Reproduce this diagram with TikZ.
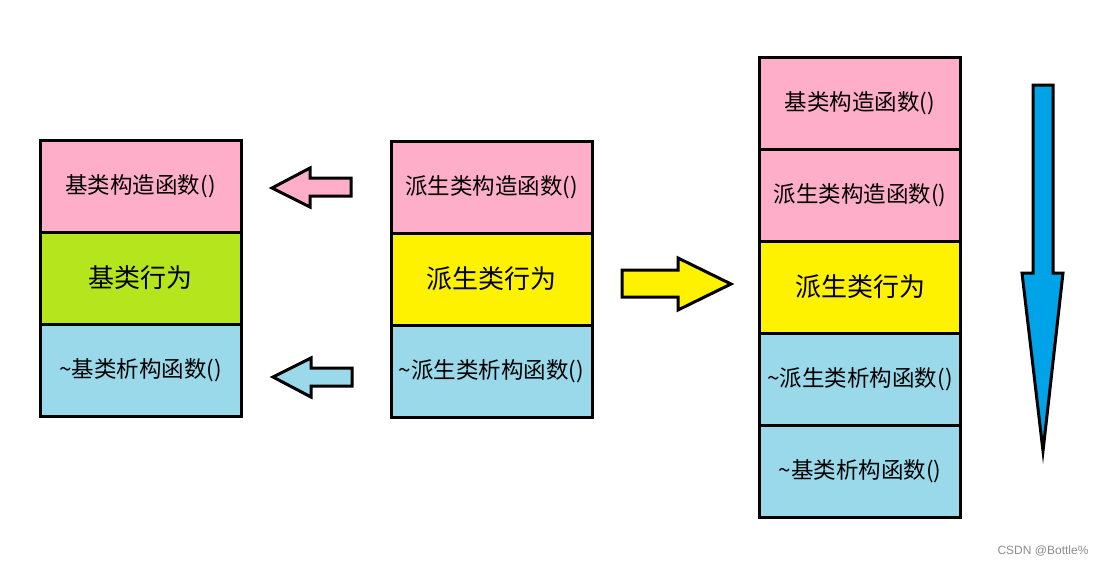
\documentclass[tikz,border=0pt]{standalone}
\usepackage{fontspec}
\setmainfont{Noto Sans CJK SC}
\newfontfamily\markfont{Liberation Sans}
\usetikzlibrary{positioning}

\definecolor{rosec}{HTML}{FFAEC9}
\definecolor{limec}{HTML}{B5E61D}
\definecolor{yellowc}{HTML}{FFF200}
\definecolor{skyc}{HTML}{99D9EA}
\definecolor{bluec}{HTML}{00A2E8}

\begin{document}
\begin{tikzpicture}[x=1pt,y=-1pt,
    cell/.style={draw,line width=3pt,minimum width=201pt,minimum height=92pt,
      inner sep=0pt,outer sep=0pt,font=\fontsize{22.5}{26}\selectfont},
    bigcell/.style={cell,font=\fontsize{26}{30}\selectfont},
    blockarrow/.style={draw,line width=3pt,line join=miter}]

  \useasboundingbox (0,0) rectangle (1103,566);

  % base class
  \node[cell,fill=rosec] (bctor) at (140.5,186) {基类构造函数()};
  \node[bigcell,fill=limec,below=0pt of bctor] (bbody) {基类行为};
  \node[cell,fill=skyc,below=0pt of bbody] (bdtor) {\textasciitilde{}基类析构函数()};

  % derived class
  \node[cell,fill=rosec] (dctor) at (491.5,187) {派生类构造函数()};
  \node[bigcell,fill=yellowc,below=0pt of dctor] (dbody) {派生类行为};
  \node[cell,fill=skyc,below=0pt of dbody] (ddtor) {\textasciitilde{}派生类析构函数()};

  % order of calls
  \node[cell,fill=rosec] (cbctor) at (860,103) {基类构造函数()};
  \node[cell,fill=rosec,below=0pt of cbctor] (cdctor) {派生类构造函数()};
  \node[bigcell,fill=yellowc,below=0pt of cdctor] (cdbody) {派生类行为};
  \node[cell,fill=skyc,below=0pt of cdbody] (cddtor) {\textasciitilde{}派生类析构函数()};
  \node[cell,fill=skyc,below=0pt of cddtor] (cbdtor) {\textasciitilde{}基类析构函数()};

  % block arrows
  \draw[blockarrow,fill=rosec] (351,178) -- (310,178) -- (310,168) -- (272,188)
    -- (310,207) -- (310,196) -- (351,196) -- cycle;
  \draw[blockarrow,fill=skyc] (352,368) -- (311,368) -- (311,358) -- (273,377)
    -- (311,397) -- (311,386) -- (352,386) -- cycle;
  \draw[blockarrow,fill=yellowc] (622,270) -- (678,270) -- (678,258) -- (731,284)
    -- (678,310) -- (678,297) -- (622,297) -- cycle;
  \draw[blockarrow,fill=bluec] (1033,85) -- (1053,85) -- (1053,273) -- (1063,273)
    -- (1043,451) -- (1022,273) -- (1033,273) -- cycle;

  \node[text=black!45,font=\markfont\fontsize{12}{14}\selectfont] (mark) at (1043,551) {CSDN @Bottle\%};

\end{tikzpicture}
\end{document}
